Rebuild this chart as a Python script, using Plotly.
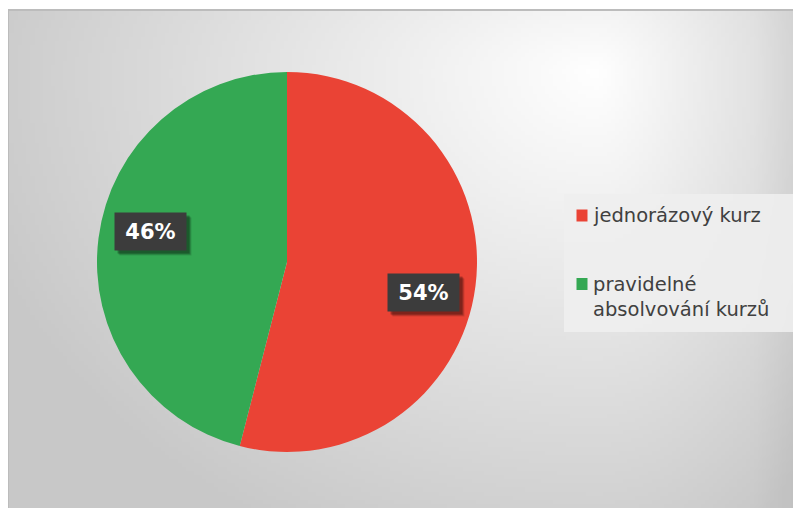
import base64, struct, zlib, math
import numpy as np
import plotly.graph_objects as go

# ---------------- data ----------------
labels = ["jednorázový kurz", "pravidelné absolvování kurzů"]
legend_text = ["jednorázový kurz", "pravidelné<br>absolvování kurzů"]
values = [54, 46]
colors = ["#EA4335", "#34A853"]

W, H = 801, 508
PAGE_OFF = 8  # page body margin in the browser
# chart area (screen px)
AX0, AY0 = 8, 10
# pie geometry (screen px)
CX, CY, R = 287, 262, 190
LABEL_R = 0.735
LABEL_ANG_OFF = 5.6  # degrees clockwise


def px(x):
    return (x - PAGE_OFF) / W


def py(y):
    return 1 - (y - PAGE_OFF) / H


# ---------------- background gradient image ----------------
def make_bg(nw=200, nh=126):
    xs = AX0 + (np.arange(nw) + 0.5) * (W + PAGE_OFF - AX0) / nw
    ys = AY0 + (np.arange(nh) + 0.5) * (H + PAGE_OFF - AY0) / nh
    X, Y = np.meshgrid(xs, ys)
    dx = X - 585
    dy = Y - 70
    ax = np.where(dx > 0, 300, 640)
    ay = np.where(dy > 0, 520, 300)
    n = np.sqrt((dx / ax) ** 2 + (dy / ay) ** 2)
    g = 255 - 55 * np.clip(n, 0, 1)
    g -= np.clip((X - 740) / 60, 0, 1) * 10
    g = np.clip(g, 0, 255).astype(np.uint8)
    raw = b"".join(b"\x00" + g[j].tobytes() for j in range(nh))

    def chunk(t, d):
        c = struct.pack(">I", len(d)) + t + d
        return c + struct.pack(">I", zlib.crc32(t + d) & 0xFFFFFFFF)

    png = b"\x89PNG\r\n\x1a\n"
    png += chunk(b"IHDR", struct.pack(">IIBBBBB", nw, nh, 8, 0, 0, 0, 0))
    png += chunk(b"IDAT", zlib.compress(raw, 9))
    png += chunk(b"IEND", b"")
    return "data:image/png;base64," + base64.b64encode(png).decode()


fig = go.Figure()

fig.add_trace(go.Pie(
    labels=labels,
    values=values,
    marker=dict(colors=colors, line=dict(width=0)),
    sort=False,
    direction="clockwise",
    rotation=0,
    textinfo="none",
    hoverinfo="label+percent",
    showlegend=False,
    domain=dict(x=[px(CX - R), px(CX + R)], y=[py(CY + R), py(CY - R)]),
))

annotations = []
shapes = []

# percentage labels with dark boxes
total = sum(values)
cum = 0
for v in values:
    mid = (cum + v / 2) / total * 360 + LABEL_ANG_OFF
    cum += v
    a = math.radians(mid)
    lx = CX + LABEL_R * R * math.sin(a)
    ly = CY - LABEL_R * R * math.cos(a)
    pct = f"{round(v / total * 100)}%"
    for off, alpha in [(5, 0.12), (4, 0.18), (3, 0.25)]:
        annotations.append(dict(
            x=px(lx + off), y=py(ly + off), xref="paper", yref="paper",
            text=" ", showarrow=False, width=71, height=37, borderpad=0,
            bgcolor=f"rgba(0,0,0,{alpha})", xanchor="center", yanchor="middle",
        ))
    annotations.append(dict(
        x=px(lx), y=py(ly), xref="paper", yref="paper",
        text=f"<b>{pct}</b>", showarrow=False, width=71, height=37, borderpad=0,
        bgcolor="#3c3c3c", xanchor="center", yanchor="middle",
        font=dict(family="DejaVu Sans", size=21, color="#ffffff"),
    ))

# legend box
shapes.append(dict(type="rect", xref="paper", yref="paper",
                   x0=px(564), x1=px(797), y0=py(332), y1=py(194),
                   fillcolor="rgba(238,238,238,0.9)", line=dict(width=0), layer="below"))
leg_sq_y = [215.5, 284]
leg_txt_y = [215.5, 297]
for i, t in enumerate(legend_text):
    shapes.append(dict(type="rect", xref="paper", yref="paper",
                       x0=px(576.5), x1=px(587.5), y0=py(leg_sq_y[i] + 6), y1=py(leg_sq_y[i] - 6),
                       fillcolor=colors[i], line=dict(width=0)))
    annotations.append(dict(
        x=px(591), y=py(leg_txt_y[i]), xref="paper", yref="paper",
        text=t, showarrow=False, xanchor="left", yanchor="middle", align="left",
        font=dict(family="DejaVu Sans", size=19.5, color="#404040"),
    ))

# chart area border
shapes.append(dict(type="rect", xref="paper", yref="paper",
                   x0=px(AX0), x1=1.05, y0=-0.05, y1=py(AY0),
                   fillcolor="rgba(0,0,0,0)", line=dict(color="#bcbcbc", width=2), layer="above"))

fig.update_layout(
    width=W, height=H,
    margin=dict(l=0, r=0, t=0, b=0),
    paper_bgcolor="#ffffff",
    plot_bgcolor="rgba(0,0,0,0)",
    annotations=annotations,
    shapes=shapes,
    images=[dict(source=make_bg(), xref="paper", yref="paper",
                 x=px(AX0), y=py(AY0), sizex=1 - px(AX0) + 0.02, sizey=py(AY0) + 0.02,
                 sizing="stretch", xanchor="left", yanchor="top", layer="below")],
)

fig.write_html("out.html")
